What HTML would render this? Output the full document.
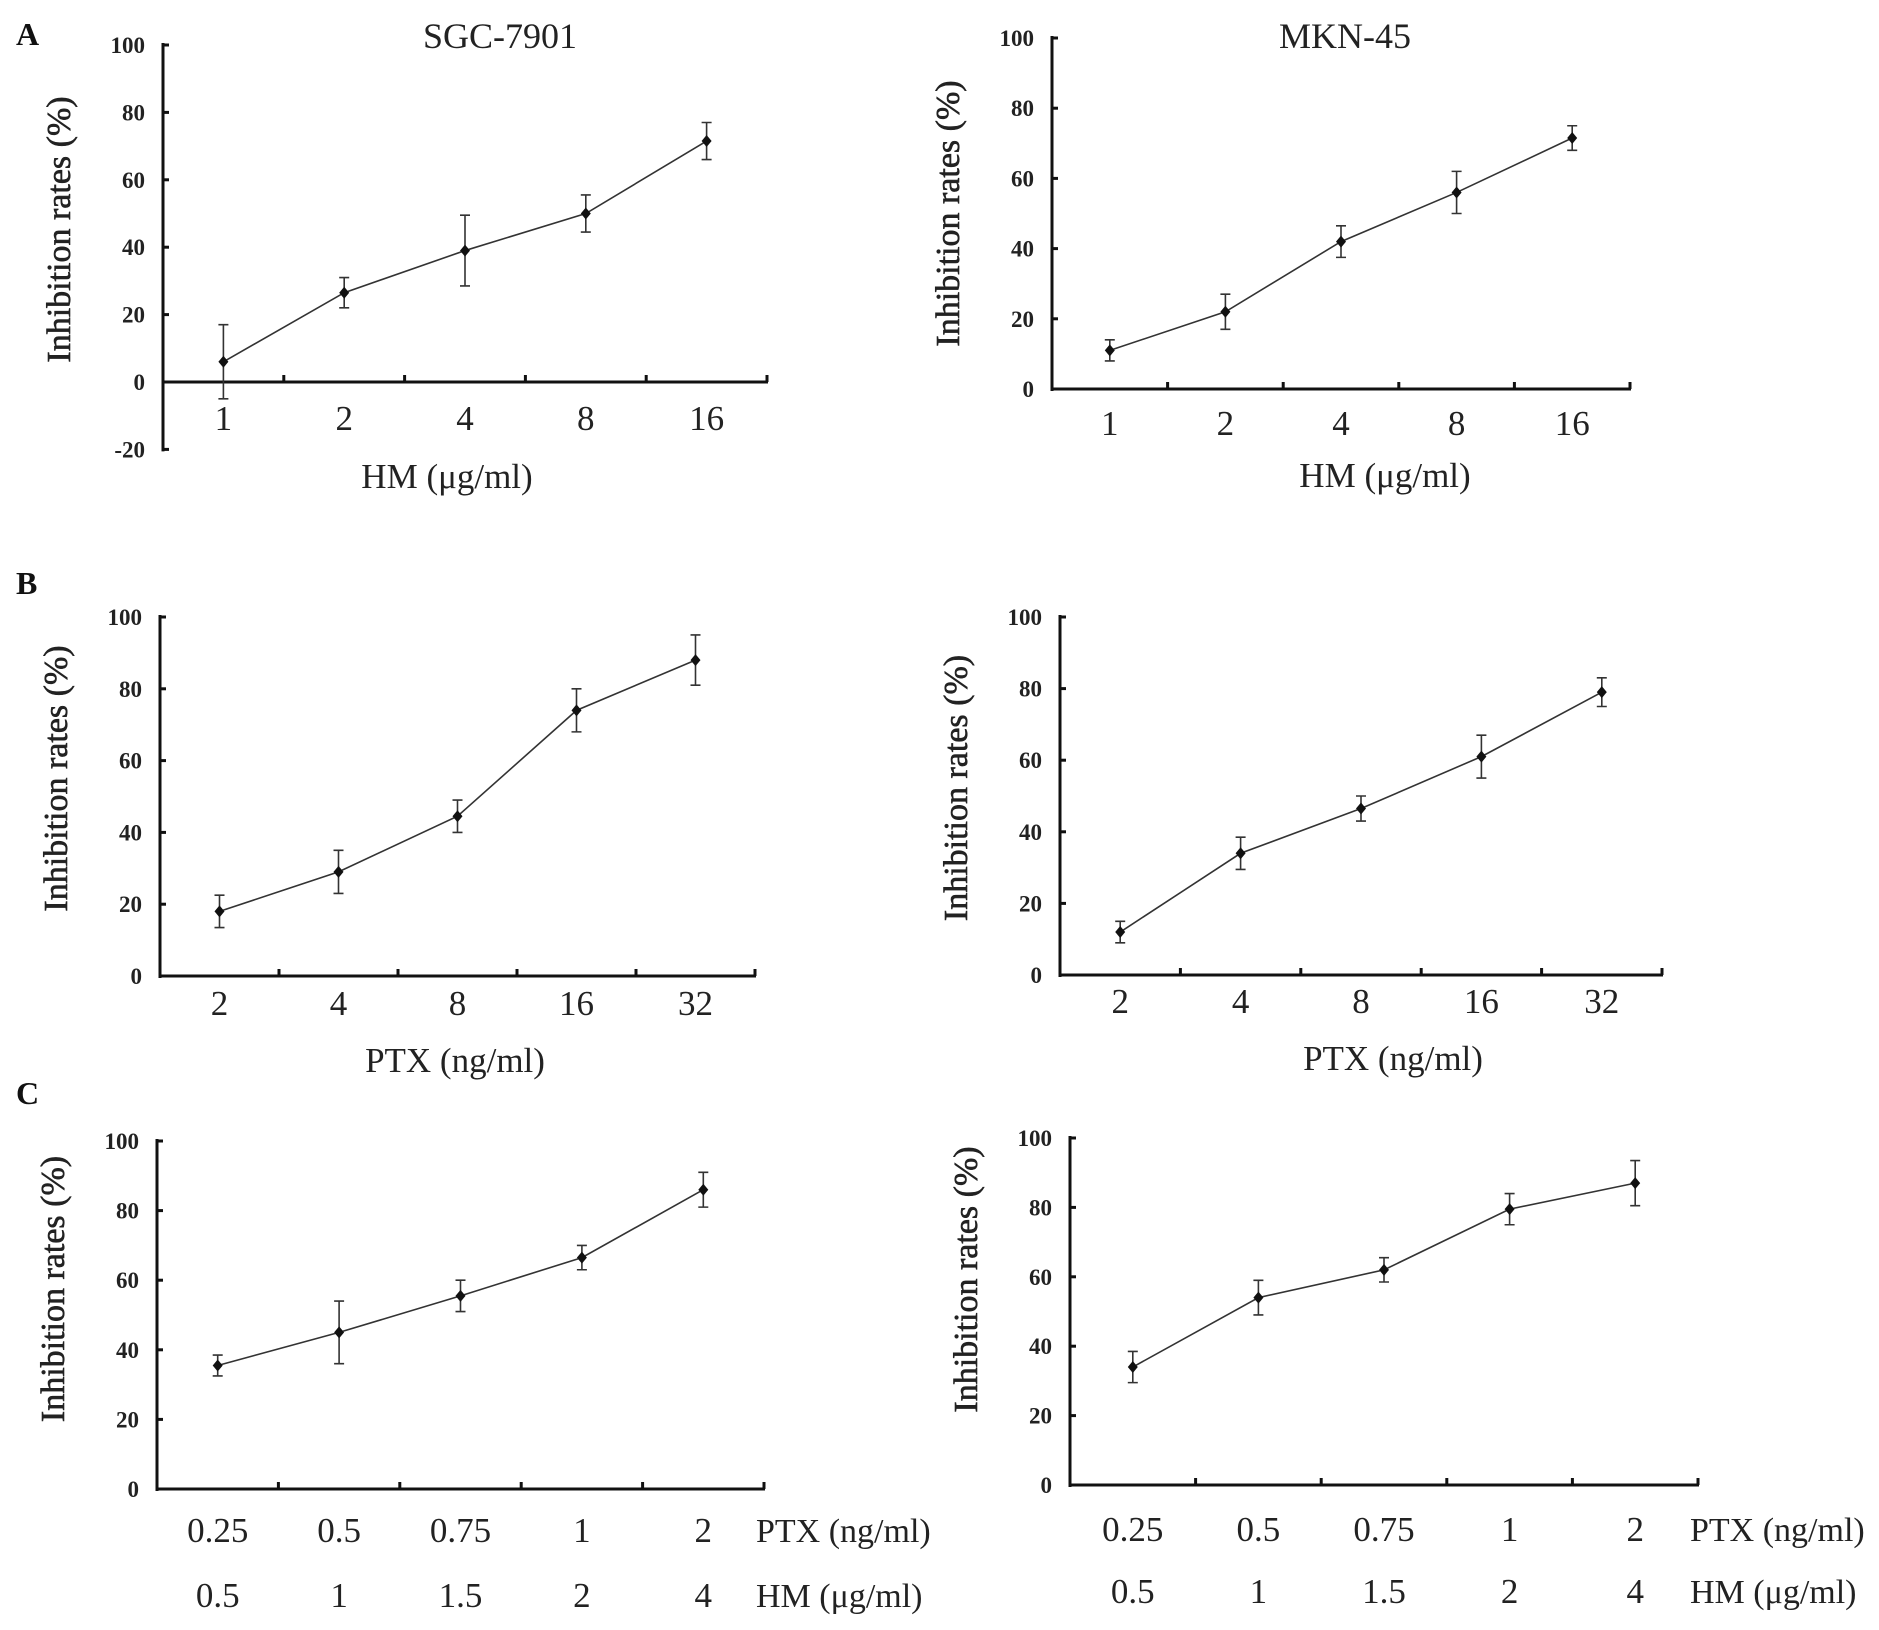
<!DOCTYPE html>
<html><head><meta charset="utf-8">
<style>
html,body{margin:0;padding:0;background:#fff;}
svg{display:block;font-family:"Liberation Serif",serif;}
</style></head>
<body>
<svg id="fig" width="1879" height="1630" viewBox="0 0 1879 1630" xmlns="http://www.w3.org/2000/svg"></svg>
<script>
const catsAHM = ["1","2","4","8","16"];
const catsBPTX = ["2","4","8","16","32"];
const catsCPTX = ["0.25","0.5","0.75","1","2"];
const catsCHM = ["0.5","1","1.5","2","4"];
const aLeftVals = [6, 26.5, 39, 50, 71.5];
const aLeftErr = [11, 4.5, 10.5, 5.5, 5.5];
const aRightVals = [11, 22, 42, 56, 71.5];
const aRightErr = [3, 5, 4.5, 6, 3.5];
const bLeftVals = [18, 29, 44.5, 74, 88];
const bLeftErr = [4.5, 6, 4.5, 6, 7];
const bRightVals = [12, 34, 46.5, 61, 79];
const bRightErr = [3, 4.5, 3.5, 6, 4];
const cLeftVals = [35.5, 45, 55.5, 66.5, 86];
const cLeftErr = [3, 9, 4.5, 3.5, 5];
const cRightVals = [34, 54, 62, 79.5, 87];
const cRightErr = [4.5, 5, 3.5, 4.5, 6.5];
const yTicksA = [-20, 0, 20, 40, 60, 80, 100];
const yTicks = [0, 20, 40, 60, 80, 100];

const NS = "http://www.w3.org/2000/svg";
const svg = document.getElementById("fig");
function el(tag, attrs, parent, text){
  const e = document.createElementNS(NS, tag);
  for (const k in attrs) e.setAttribute(k, attrs[k]);
  if (text !== undefined) e.textContent = text;
  (parent || svg).appendChild(e);
  return e;
}

function panel(id, L, cats, vals, errs, ticks){
  const g = el("g", {});
  
  
  const ymin = ticks[0], ymax = ticks[ticks.length-1];
  const y = v => L.y0 + (v - 0) * (L.y100 - L.y0) / 100;
  const n = cats.length;
  const step = (L.xEnd - L.ax) / n;
  const x = i => L.ax + step * (i + 0.5);
  const ya = el("line", {x1:L.ax, y1:y(ymax)-2, x2:L.ax, y2:y(ymin)+2, stroke:"#111","stroke-width":3}, g);
  
  
  ticks.forEach(t => {
    const tk = el("line", {x1:L.ax, y1:y(t), x2:L.ax+6, y2:y(t), stroke:"#111","stroke-width":3}, g);
    
    
    const tl = el("text", {x:L.ax-18, y:y(t)+8, "text-anchor":"end", "font-size":23, "font-weight":"bold", fill:"#222"}, g, String(t));
    
    
  });
  const xa = el("line", {x1:L.ax, y1:L.y0, x2:L.xEnd+1, y2:L.y0, stroke:"#111","stroke-width":3}, g);
  
  
  for (let i = 1; i <= n; i++) {
    const xt = el("line", {x1:L.ax+step*i, y1:L.y0, x2:L.ax+step*i, y2:L.y0-7, stroke:"#111","stroke-width":3}, g);
    
    
  }
  const pts = vals.map((v,i) => x(i) + "," + y(v)).join(" ");
  const pl = el("polyline", {points:pts, fill:"none", stroke:"#333", "stroke-width":1.6}, g);
  
  
  vals.forEach((v,i) => {
    const cx = x(i), cy = y(v), e = errs[i];
    const eb = el("path", {d:`M${cx},${y(v+e)}V${y(v-e)}M${cx-5},${y(v+e)}H${cx+5}M${cx-5},${y(v-e)}H${cx+5}`, stroke:"#333", "stroke-width":1.6, fill:"none"}, g);
    
    
    const mk = el("path", {d:`M${cx},${cy-6}L${cx+5},${cy}L${cx},${cy+6}L${cx-5},${cy}Z`, fill:"#111"}, g);
    
    
  });
  cats.forEach((c,i) => {
    const t = el("text", {x:x(i), y:L.xly, "text-anchor":"middle", "font-size":35, fill:"#222"}, g, c);
    
    
  });
  if (L.cats2) {
    L.cats2.forEach((c,i) => {
      const t = el("text", {x:x(i), y:L.xly2, "text-anchor":"middle", "font-size":35, fill:"#222"}, g, c);
      
      
    });
    const t1 = el("text", {x:L.xEnd-8, y:L.xly, "font-size":34, fill:"#222"}, g, "PTX (ng/ml)");
    
    
    const t2 = el("text", {x:L.xEnd-8, y:L.xly2, "font-size":34, fill:"#222"}, g, "HM (μg/ml)");
    
    
  } else {
    const xt = el("text", {x:L.xtx, y:L.xty, "text-anchor":"middle", "font-size":35, fill:"#222"}, g, L.xtitle);
    
    
  }
  const cyl = (y(ymax) + L.y0) / 2 + (L.ylOff || 0);
  const yl = el("text", {x:0, y:0, transform:`translate(${L.ax-93},${cyl}) rotate(-90)`, "text-anchor":"middle", "font-size":34, fill:"#222", stroke:"#222", "stroke-width":0.6}, g, "Inhibition rates (%)");
  
  
  if (L.title) {
    const tt = el("text", {x:L.titleX, y:L.titleY, "text-anchor":"middle", "font-size":36, fill:"#222"}, g, L.title);
    
    
  }
}

panel("a-sgc7901", {ax:163, y0:382, y100:45, xEnd:767, xly:430, xtx:447, xty:488, xtitle:"HM (μg/ml)", title:"SGC-7901", titleX:500, titleY:48, ylOff:16}, catsAHM, aLeftVals, aLeftErr, yTicksA);
panel("a-mkn45", {ax:1052, y0:389, y100:38, xEnd:1630, xly:435, xtx:1385, xty:487, xtitle:"HM (μg/ml)", title:"MKN-45", titleX:1345, titleY:48}, catsAHM, aRightVals, aRightErr, yTicks);
panel("b-sgc7901", {ax:160, y0:976, y100:617, xEnd:755, xly:1015, xtx:455, xty:1072, xtitle:"PTX (ng/ml)", ylOff:-18}, catsBPTX, bLeftVals, bLeftErr, yTicks);
panel("b-mkn45", {ax:1060, y0:975, y100:617, xEnd:1662, xly:1013, xtx:1393, xty:1070, xtitle:"PTX (ng/ml)", ylOff:-8}, catsBPTX, bRightVals, bRightErr, yTicks);
panel("c-sgc7901", {ax:157, y0:1489, y100:1141, xEnd:764, xly:1542, xly2:1607, cats2:catsCHM, ylOff:-26}, catsCPTX, cLeftVals, cLeftErr, yTicks);
panel("c-mkn45", {ax:1070, y0:1485, y100:1138, xEnd:1698, xly:1541, xly2:1603, cats2:catsCHM, ylOff:-32}, catsCPTX, cRightVals, cRightErr, yTicks);

[["A",16,45],["B",16,594],["C",16,1104]].forEach(p => {
  const t = el("text", {x:p[1], y:p[2], "font-size":32, "font-weight":"bold", fill:"#111"}, svg, p[0]);
  
  
});
</script>
</body></html>
